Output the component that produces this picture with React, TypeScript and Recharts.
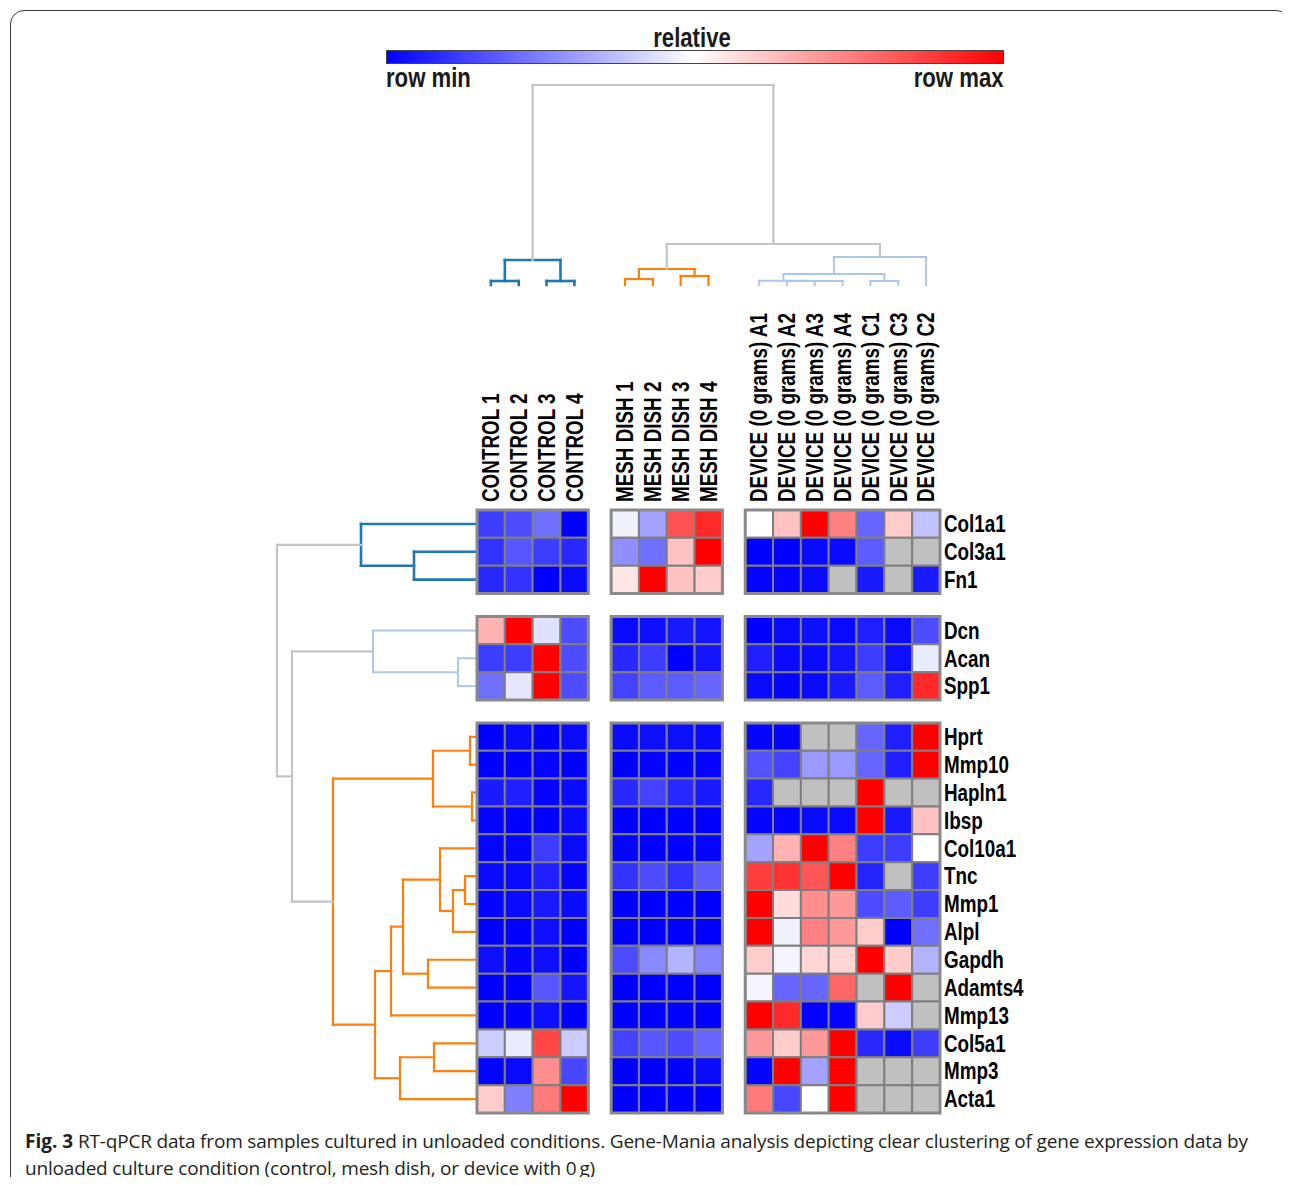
import React from 'react';
import { ComposedChart, XAxis, YAxis, ReferenceArea, ReferenceLine, Scatter } from 'recharts';

const W = 1290;
const H = 1185;
const FONT = '"Liberation Sans", Arial, sans-serif';
const NARROW = 0.82;

const sampleLabels = [
  'CONTROL 1', 'CONTROL 2', 'CONTROL 3', 'CONTROL 4',
  'MESH DISH 1', 'MESH DISH 2', 'MESH DISH 3', 'MESH DISH 4',
  'DEVICE (0 grams) A1', 'DEVICE (0 grams) A2', 'DEVICE (0 grams) A3', 'DEVICE (0 grams) A4',
  'DEVICE (0 grams) C1', 'DEVICE (0 grams) C3', 'DEVICE (0 grams) C2',
];
const geneLabels = [
  'Col1a1', 'Col3a1', 'Fn1', 'Dcn', 'Acan', 'Spp1', 'Hprt', 'Mmp10', 'Hapln1', 'Ibsp',
  'Col10a1', 'Tnc', 'Mmp1', 'Alpl', 'Gapdh', 'Adamts4', 'Mmp13', 'Col5a1', 'Mmp3', 'Acta1',
];
const colGroupSizes = [4, 4, 7];
const rowGroupSizes = [3, 3, 14];

// 0 = row min, 1 = row max, null = no value (grey)
const controlValues: (number | null)[][] = [
  [0.12, 0.15, 0.22, 0.0],
  [0.1, 0.17, 0.12, 0.08],
  [0.08, 0.1, 0.0, 0.02],
  [0.65, 1.0, 0.44, 0.15],
  [0.12, 0.12, 1.0, 0.15],
  [0.22, 0.45, 1.0, 0.15],
  [0.0, 0.02, 0.0, 0.02],
  [0.0, 0.0, 0.01, 0.0],
  [0.05, 0.06, 0.01, 0.02],
  [0.01, 0.0, 0.0, 0.02],
  [0.01, 0.01, 0.12, 0.02],
  [0.02, 0.02, 0.06, 0.01],
  [0.01, 0.02, 0.05, 0.02],
  [0.0, 0.0, 0.03, 0.0],
  [0.03, 0.01, 0.03, 0.0],
  [0.0, 0.0, 0.17, 0.04],
  [0.0, 0.0, 0.03, 0.0],
  [0.4, 0.46, 0.86, 0.4],
  [0.01, 0.02, 0.72, 0.14],
  [0.6, 0.25, 0.76, 1.0],
];
const meshValues: (number | null)[][] = [
  [0.47, 0.32, 0.84, 0.92],
  [0.28, 0.22, 0.62, 1.0],
  [0.55, 1.0, 0.62, 0.6],
  [0.02, 0.03, 0.05, 0.04],
  [0.08, 0.12, 0.0, 0.04],
  [0.13, 0.18, 0.18, 0.2],
  [0.02, 0.03, 0.03, 0.02],
  [0.0, 0.01, 0.0, 0.01],
  [0.08, 0.13, 0.08, 0.05],
  [0.0, 0.0, 0.0, 0.0],
  [0.01, 0.0, 0.0, 0.01],
  [0.1, 0.15, 0.1, 0.18],
  [0.0, 0.0, 0.0, 0.0],
  [0.0, 0.0, 0.0, 0.0],
  [0.15, 0.27, 0.35, 0.26],
  [0.0, 0.0, 0.0, 0.0],
  [0.0, 0.0, 0.0, 0.0],
  [0.13, 0.17, 0.15, 0.2],
  [0.0, 0.0, 0.0, 0.02],
  [0.0, 0.0, 0.0, 0.0],
];
const deviceValues: (number | null)[][] = [
  [0.5, 0.62, 1.0, 0.75, 0.2, 0.6, 0.38],
  [0.0, 0.0, 0.02, 0.02, 0.18, null, null],
  [0.01, 0.01, 0.02, null, 0.05, null, 0.05],
  [0.0, 0.02, 0.03, 0.02, 0.06, 0.02, 0.15],
  [0.06, 0.02, 0.02, 0.04, 0.12, 0.03, 0.46],
  [0.02, 0.01, 0.02, 0.05, 0.18, 0.06, 0.92],
  [0.01, 0.01, null, null, 0.2, 0.06, 1.0],
  [0.16, 0.13, 0.3, 0.3, 0.2, 0.06, 1.0],
  [0.08, null, null, null, 1.0, null, null],
  [0.01, 0.01, 0.02, 0.02, 1.0, 0.05, 0.62],
  [0.32, 0.65, 1.0, 0.75, 0.12, 0.12, 0.5],
  [0.88, 0.9, 0.83, 1.0, 0.07, null, 0.12],
  [1.0, 0.57, 0.72, 0.7, 0.15, 0.18, 0.12],
  [1.0, 0.47, 0.75, 0.7, 0.6, 0.0, 0.22],
  [0.6, 0.48, 0.58, 0.58, 1.0, 0.6, 0.35],
  [0.48, 0.2, 0.2, 0.8, null, 1.0, null],
  [1.0, 0.92, 0.0, 0.01, 0.6, 0.4, null],
  [0.7, 0.6, 0.7, 1.0, 0.08, 0.02, 0.12],
  [0.01, 1.0, 0.32, 1.0, null, null, null],
  [0.76, 0.14, 0.5, 1.0, null, null, null],
];

// linkage: [left, right, distance, cluster]; new node ids continue after the leaves
const sampleLinkage: [number, number, number, string][] = [
  [0, 1, 0.02, 'a'], [2, 3, 0.02, 'a'], [15, 16, 0.125, 'a'],
  [4, 5, 0.03, 'b'], [6, 7, 0.045, 'b'], [18, 19, 0.08, 'b'],
  [10, 11, 0.02, 'c'], [9, 21, 0.0205, 'c'], [8, 22, 0.021, 'c'],
  [12, 13, 0.02, 'c'], [23, 24, 0.055, 'c'], [25, 14, 0.14, 'c'],
  [20, 26, 0.205, 'g'], [17, 27, 1.0, 'g'],
];
const geneLinkage: [number, number, number, string][] = [
  [1, 2, 0.315, 'a'], [0, 20, 0.58, 'a'],
  [4, 5, 0.095, 'c'], [3, 22, 0.52, 'c'],
  [6, 7, 0.035, 'b'], [8, 9, 0.025, 'b'], [24, 25, 0.22, 'b'],
  [11, 12, 0.06, 'b'], [27, 13, 0.12, 'b'], [10, 28, 0.185, 'b'],
  [14, 15, 0.245, 'b'], [29, 30, 0.37, 'b'], [31, 16, 0.43, 'b'],
  [17, 18, 0.215, 'b'], [33, 19, 0.385, 'b'], [32, 34, 0.51, 'b'],
  [26, 35, 0.72, 'b'], [23, 36, 0.925, 'g'], [21, 37, 1.0, 'g'],
];

const clusterColors: Record<string, string> = { a: '#1f77b4', b: '#ff7f0e', c: '#aec7e8', g: '#c4c4c4' };
const clusterWidths: Record<string, number> = { a: 2.6, b: 2.2, c: 2, g: 2.2 };

const GAP = 0.82;

function groupStarts(sizes: number[]) {
  const out: number[] = [];
  sizes.forEach((n, g) => {
    for (let i = 0; i < n; i++) out.push(out.length + g * GAP);
  });
  return out;
}
const colStart = groupStarts(colGroupSizes);
const rowStart = groupStarts(rowGroupSizes);
const colMax = sampleLabels.length + (colGroupSizes.length - 1) * GAP;
const rowMax = geneLabels.length + (rowGroupSizes.length - 1) * GAP;

function cellColor(v: number | null) {
  if (v === null) return '#c0c0c0';
  if (v < 0.5) {
    const t = Math.round(255 * (v / 0.5));
    return `rgb(${t},${t},255)`;
  }
  const t = Math.round(255 * (1 - (v - 0.5) / 0.5));
  return `rgb(255,${t},${t})`;
}

// segments in (leaf position, distance) space
function dendroSegments(linkage: [number, number, number, string][], leafPos: number[]) {
  const pos = [...leafPos];
  const hgt = leafPos.map(() => 0);
  const segs: { a: [number, number]; b: [number, number]; c: string }[] = [];
  linkage.forEach(([l, r, d, c]) => {
    const pl = pos[l];
    const pr = pos[r];
    segs.push({ a: [pl, hgt[l]], b: [pl, d], c });
    segs.push({ a: [pr, hgt[r]], b: [pr, d], c });
    segs.push({ a: [pl, d], b: [pr, d], c });
    pos.push((pl + pr) / 2);
    hgt.push(d);
  });
  return segs;
}

const colSegs = dendroSegments(sampleLinkage, colStart.map((s) => s + 0.5));
const rowSegs = dendroSegments(geneLinkage, rowStart.map((s) => s + 0.5));

const allValues = geneLabels.map((_, r) => [...controlValues[r], ...meshValues[r], ...deviceValues[r]]);
const cellPoints = allValues.flatMap((row, r) => row.map((v, c) => ({ x: colStart[c] + 0.5, y: rowStart[r] + 0.5, v })));

const NoDot = () => <g />;

const SampleTick = (props: any) => {
  const { x, y, index } = props;
  return (
    <g transform={`translate(${x},${y}) rotate(-90) scale(${NARROW},1)`}>
      <text x={0} y={0} dy="0.36em" textAnchor="start" fontFamily={FONT} fontWeight="bold" fontSize={23} fill="#000">
        {sampleLabels[index]}
      </text>
    </g>
  );
};

const GeneTick = (props: any) => {
  const { x, y, index } = props;
  return (
    <g transform={`translate(${x},${y}) scale(${NARROW},1)`}>
      <text x={0} y={0} dy="0.36em" textAnchor="start" fontFamily={FONT} fontWeight="bold" fontSize={23} fill="#000">
        {geneLabels[index]}
      </text>
    </g>
  );
};

function Heatmap() {
  return (
    <ComposedChart width={W} height={H} data={cellPoints} margin={{ top: 500, left: 477, right: 250, bottom: 72 }}>
      <XAxis
        type="number"
        dataKey="x"
        orientation="top"
        domain={[0, colMax]}
        ticks={colStart.map((s) => s + 0.5)}
        interval={0}
        height={10}
        tickSize={0}
        tickMargin={8}
        axisLine={false}
        tick={<SampleTick />}
      />
      <YAxis
        type="number"
        dataKey="y"
        orientation="right"
        reversed
        domain={[0, rowMax]}
        ticks={rowStart.map((s) => s + 0.5)}
        interval={0}
        width={100}
        tickSize={0}
        tickMargin={4}
        axisLine={false}
        tick={<GeneTick />}
      />
      <Scatter data={cellPoints} dataKey="y" shape={<NoDot />} isAnimationActive={false} />
      {allValues.map((row, r) =>
        row.map((v, c) => (
          <ReferenceArea
            key={`${r}-${c}`}
            x1={colStart[c]}
            x2={colStart[c] + 1}
            y1={rowStart[r]}
            y2={rowStart[r] + 1}
            fill={cellColor(v)}
            fillOpacity={1}
            stroke="#7f7f7f"
            strokeWidth={2}
            ifOverflow="visible"
          />
        ))
      )}
      {rowGroupSizes.map((rn, rg) => {
        const r0 = rowGroupSizes.slice(0, rg).reduce((a, b) => a + b, 0);
        return colGroupSizes.map((cn, cg) => {
          const c0 = colGroupSizes.slice(0, cg).reduce((a, b) => a + b, 0);
          return (
            <ReferenceArea
              key={`g${rg}-${cg}`}
              x1={colStart[c0]}
              x2={colStart[c0 + cn - 1] + 1}
              y1={rowStart[r0]}
              y2={rowStart[r0 + rn - 1] + 1}
              fill="none"
              stroke="#8a8a8a"
              strokeWidth={3}
              ifOverflow="visible"
            />
          );
        });
      })}
    </ComposedChart>
  );
}

function SampleDendrogram() {
  const pts = colSegs.map((s) => ({ x: s.a[0], y: s.a[1] }));
  return (
    <ComposedChart width={W} height={H} data={pts} margin={{ top: 85, left: 477, right: W - 940, bottom: H - 285 }}>
      <XAxis type="number" dataKey="x" domain={[0, colMax]} hide />
      <YAxis type="number" dataKey="y" domain={[0, 1]} hide />
      <Scatter data={pts} dataKey="y" shape={<NoDot />} isAnimationActive={false} />
      {colSegs.map((s, i) => (
        <ReferenceLine
          key={i}
          segment={[{ x: s.a[0], y: s.a[1] }, { x: s.b[0], y: s.b[1] }]}
          stroke={clusterColors[s.c]}
          strokeWidth={clusterWidths[s.c]}
          strokeLinecap="square"
          ifOverflow="visible"
        />
      ))}
    </ComposedChart>
  );
}

function GeneDendrogram() {
  const pts = rowSegs.map((s) => ({ x: s.a[1], y: s.a[0] }));
  return (
    <ComposedChart width={W} height={H} data={pts} margin={{ top: 510, left: 277, right: W - 477, bottom: H - 1113 }}>
      <XAxis type="number" dataKey="x" domain={[0, 1]} reversed hide />
      <YAxis type="number" dataKey="y" domain={[0, rowMax]} reversed hide />
      <Scatter data={pts} dataKey="y" shape={<NoDot />} isAnimationActive={false} />
      {rowSegs.map((s, i) => (
        <ReferenceLine
          key={i}
          segment={[{ x: s.a[1], y: s.a[0] }, { x: s.b[1], y: s.b[0] }]}
          stroke={clusterColors[s.c]}
          strokeWidth={clusterWidths[s.c]}
          strokeLinecap="square"
          ifOverflow="visible"
        />
      ))}
    </ComposedChart>
  );
}

const layer: React.CSSProperties = { position: 'absolute', left: 0, top: 0 };
const legendText: React.CSSProperties = {
  position: 'absolute',
  fontFamily: FONT,
  fontWeight: 'bold',
  fontSize: 27,
  lineHeight: '30px',
  color: '#1a1a1a',
  whiteSpace: 'nowrap',
};
const captionText: React.CSSProperties = {
  position: 'absolute',
  fontFamily: '"Open Sans", "Noto Sans", sans-serif',
  fontSize: 19,
  lineHeight: '27px',
  color: '#231f20',
  whiteSpace: 'nowrap',
  letterSpacing: -0.18,
};

export default function App() {
  return (
    <div style={{ position: 'relative', width: W, height: H, overflow: 'hidden', background: '#fff', margin: -8 }}>
      <div
        style={{
          position: 'absolute',
          left: 10,
          top: 10,
          width: 1278,
          height: 1300,
          border: '1.5px solid #3a3a3a',
          borderRadius: 14,
        }}
      />
      <div style={layer}><SampleDendrogram /></div>
      <div style={layer}><GeneDendrogram /></div>
      <div style={layer}><Heatmap /></div>

      <div style={{ ...legendText, left: 692, top: 23, transform: `translateX(-50%) scaleX(${NARROW})` }}>relative</div>
      <div
        style={{
          position: 'absolute',
          left: 386,
          top: 50,
          width: 616,
          height: 12,
          border: '1.5px solid #444',
          background: 'linear-gradient(to right, #0000ff 0%, #ffffff 50%, #ff0000 100%)',
        }}
      />
      <div style={{ ...legendText, left: 386, top: 63, transformOrigin: 'left top', transform: `scaleX(${NARROW})` }}>row min</div>
      <div style={{ ...legendText, right: 1290 - 1004, top: 63, transformOrigin: 'right top', transform: `scaleX(${NARROW})` }}>
        row max
      </div>

      <div style={{ ...captionText, left: 25, top: 1128, fontWeight: 'bold', letterSpacing: 0 }}>Fig. 3</div>
      <div style={{ ...captionText, left: 78, top: 1128 }}>
        RT-qPCR data from samples cultured in unloaded conditions. Gene-Mania analysis depicting clear clustering of gene
        expression data by
      </div>
      <div style={{ ...captionText, left: 25, top: 1155 }}>
        unloaded culture condition (control, mesh dish, or device with 0&#8201;g)
      </div>
    </div>
  );
}
